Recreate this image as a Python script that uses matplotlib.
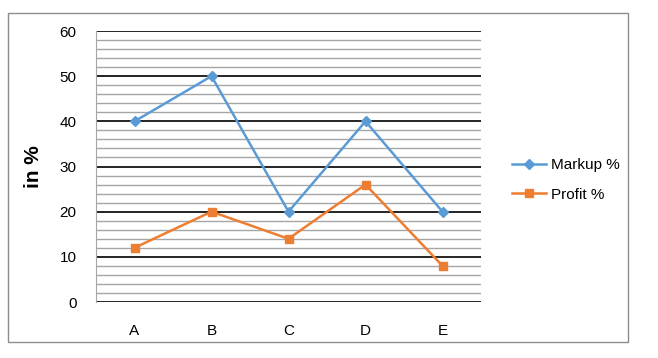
import matplotlib
matplotlib.use("Agg")
import matplotlib.pyplot as plt
from matplotlib.patches import Rectangle
from matplotlib.ticker import MultipleLocator

plt.rcParams['font.family'] = ['Liberation Sans', 'DejaVu Sans']

categories = ["A", "B", "C", "D", "E"]
markup = [40, 50, 20, 40, 20]
profit = [12, 20, 14, 26, 8]

fig = plt.figure(figsize=(6.58, 3.58), dpi=100)
ax = fig.add_axes([96 / 658, 1 - 302 / 358, 385 / 658, 271 / 358])

# outer chart border
fig.patches.append(Rectangle((8 / 658, 1 - 342 / 358), 620 / 658, 329 / 358,
                             transform=fig.transFigure, fill=False,
                             edgecolor='#8c8c8c', linewidth=1))

x = list(range(len(categories)))
ax.plot(x, markup, color='#5B9BD5', marker='D', markersize=5, linewidth=1.8, label='Markup %')
ax.plot(x, profit, color='#ED7D31', marker='s', markersize=6, linewidth=1.8, label='Profit %')

ax.set_xlim(-0.5, len(categories) - 0.5)
ax.set_ylim(0, 60)
ax.yaxis.set_major_locator(MultipleLocator(10))
ax.yaxis.set_minor_locator(MultipleLocator(2))
ax.set_xticks(x)
ax.set_xticklabels(categories)
ax.grid(which='major', axis='y', color='black', linewidth=1.2)
ax.grid(which='minor', axis='y', color='#a6a6a6', linewidth=1)
ax.set_axisbelow(True)
ax.tick_params(axis='both', which='both', length=0, labelsize=11)
ax.tick_params(axis='x', pad=16)
ax.tick_params(axis='y', pad=14)
for side in ['top', 'right', 'bottom']:
    ax.spines[side].set_visible(False)
ax.spines['left'].set_color('#a6a6a6')

ax.set_ylabel('in %', fontsize=15, fontweight='bold', labelpad=12)

ax.legend(loc='center left', bbox_to_anchor=(1.045, 0.45), frameon=False,
          fontsize=11, handlelength=2.2, handletextpad=0.35, labelspacing=1.0)

fig.savefig('out.png', dpi=100)
